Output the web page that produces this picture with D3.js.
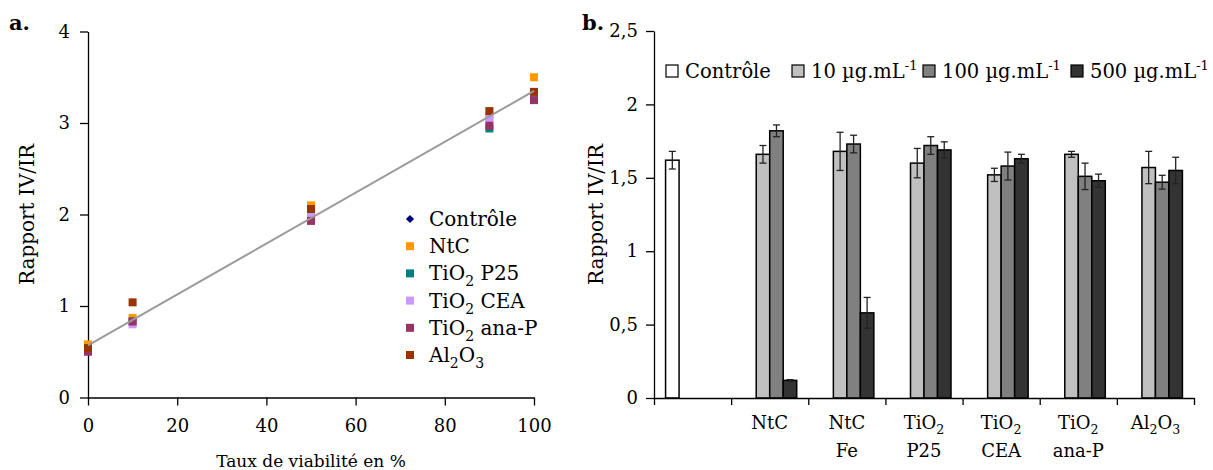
<!DOCTYPE html>
<html><head><meta charset="utf-8">
<script src="https://cdn.jsdelivr.net/npm/d3@7"></script>
<style>
html,body{margin:0;padding:0;background:#fff;}
svg text{font-family:"DejaVu Serif",serif;fill:#000;}
</style></head><body>
<svg id="c" width="1213" height="470"></svg>
<script>
// ---------- Panel a data ----------
const viability = [0, 10, 50, 90, 100];
const scatterSeries = ["Contrôle", "NtC", "TiO_{2} P25", "TiO_{2} CEA", "TiO_{2} ana-P", "Al_{2}O_{3}"];
const ctrlPts  = [0.55, 0.84, 1.97, 3.02, 3.30];
const ntcPts   = [0.58, 0.87, 2.10, 3.08, 3.50];
const p25Pts   = [0.52, 0.83, 1.95, 2.94, 3.27];
const ceaPts   = [0.52, 0.80, 1.99, 3.05, 3.30];
const anaPts   = [0.50, 0.83, 1.93, 2.97, 3.25];
const al2o3Pts = [0.54, 1.04, 2.06, 3.13, 3.34];
const trendX = [0, 100];
const trendY = [0.57, 3.35];
const xTicksA = [0, 20, 40, 60, 80, 100];
const yTicksA = [0, 1, 2, 3, 4];

// ---------- Panel b data ----------
const categories = ["Contrôle", "NtC", "NtC Fe", "TiO2 P25", "TiO2 CEA", "TiO2 ana-P", "Al2O3"];
const catLabels = [[], ["NtC"], ["NtC", "Fe"], ["TiO_{2}", "P25"], ["TiO_{2}", "CEA"], ["TiO_{2}", "ana-P"], ["Al_{2}O_{3}"]];
const barSeries = ["Contrôle", "10 µg.mL^{-1}", "100 µg.mL^{-1}", "500 µg.mL^{-1}"];
const ctrlVals = [1.62, null, null, null, null, null, null];
const ctrlErr  = [0.06, null, null, null, null, null, null];
const v10   = [null, 1.66, 1.68, 1.60, 1.52, 1.66, 1.57];
const e10   = [null, 0.06, 0.13, 0.10, 0.045, 0.02, 0.11];
const v100  = [null, 1.82, 1.73, 1.72, 1.58, 1.51, 1.47];
const e100  = [null, 0.04, 0.06, 0.06, 0.095, 0.09, 0.047];
const v500  = [null, 0.12, 0.58, 1.69, 1.63, 1.48, 1.55];
const e500  = [null, 0.005, 0.105, 0.055, 0.03, 0.045, 0.09];
const yTicksB = [0, 0.5, 1, 1.5, 2, 2.5];

const svg = d3.select("#c");
const FS = 18;

function rich(sel, str, fs) {
  const parts = str.split(/(_\{[^}]*\}|\^\{[^}]*\})/).filter(s => s.length);
  let shift = 0;
  parts.forEach(p => {
    const t = sel.append("tspan");
    let target = 0, txt = p, size = fs;
    if (p.startsWith("_{")) { target = fs * 0.3; txt = p.slice(2, -1); size = fs * 0.7; }
    else if (p.startsWith("^{")) { target = -fs * 0.42; txt = p.slice(2, -1); size = fs * 0.66; }
    t.attr("dy", target - shift).attr("font-size", size).text(txt);
    shift = target;
  });
}

function fmtComma(d) { return String(d).replace(".", ","); }

// ================= Panel a =================
const xA = d3.scaleLinear().domain([0, 100]).range([88, 534]);
const yA = d3.scaleLinear().domain([0, 4]).range([397.5, 31.5]);
const gA = svg.append("g");

const axA_y = gA.append("g").attr("transform", `translate(${xA(0)},0)`)
  .call(d3.axisLeft(yA).tickValues(yTicksA).tickFormat(d3.format("d")).tickSize(8).tickSizeOuter(0).tickPadding(10));
const axA_x = gA.append("g").attr("transform", `translate(0,${yA(0)})`)
  .call(d3.axisBottom(xA).tickValues(xTicksA).tickFormat(d3.format("d")).tickSize(8).tickSizeOuter(0).tickPadding(14));
[axA_y, axA_x].forEach(a => {
  a.selectAll("path,line").attr("stroke", "#000").attr("stroke-width", 1.3);
  a.selectAll("text").attr("font-size", FS).attr("font-family", "DejaVu Serif").attr("fill", "#000");
});

const colors = ["#000080", "#FF9900", "#008080", "#CC99FF", "#993366", "#993300"];
const ptSets = [ctrlPts, ntcPts, p25Pts, ceaPts, anaPts, al2o3Pts];
const diamond = d3.symbol().type(d3.symbolSquare).size(34);
ptSets.forEach((vals, si) => {
  const pts = vals.map((v, i) => ({ x: viability[i], y: v }));
  if (si === 0) {
    gA.append("g").selectAll("path").data(pts).join("path")
      .attr("d", diamond).attr("transform", d => `translate(${xA(d.x)},${yA(d.y)}) rotate(45)`)
      .attr("fill", colors[si]);
  } else {
    gA.append("g").selectAll("rect").data(pts).join("rect")
      .attr("x", d => xA(d.x) - 4).attr("y", d => yA(d.y) - 4)
      .attr("width", 8).attr("height", 8).attr("fill", colors[si]);
  }
});
gA.append("path")
  .datum(trendX.map((x, i) => [x, trendY[i]]))
  .attr("d", d3.line().x(d => xA(d[0])).y(d => yA(d[1])))
  .attr("stroke", "#9a9a9a").attr("stroke-width", 2).attr("fill", "none");

// legend a
const LFS = 20;
const legA = gA.append("g");
scatterSeries.forEach((name, i) => {
  const cy = 219 + i * 27.2;
  if (i === 0) {
    legA.append("path").attr("d", diamond).attr("transform", `translate(410,${cy}) rotate(45)`).attr("fill", colors[i]);
  } else {
    legA.append("rect").attr("x", 406).attr("y", cy - 4).attr("width", 8).attr("height", 8).attr("fill", colors[i]);
  }
  const t = legA.append("text").attr("x", 429).attr("y", cy + 7).attr("font-size", LFS);
  rich(t, name, LFS);
});

// axis titles a
gA.append("text").attr("transform", `translate(34,${(yA(0) + yA(4)) / 2}) rotate(-90)`)
  .attr("text-anchor", "middle").attr("font-size", 20).text("Rapport IV/IR");
gA.append("text").attr("x", (xA(0) + xA(100)) / 2).attr("y", 467)
  .attr("text-anchor", "middle").attr("font-size", 17).text("Taux de viabilité en %");
gA.append("text").attr("x", 9).attr("y", 30).attr("font-size", 21).attr("font-weight", "bold").text("a.");

// ================= Panel b =================
const yB = d3.scaleLinear().domain([0, 2.5]).range([398, 31]);
const xB = d3.scaleBand().domain(categories).range([654, 1194]).paddingInner(0.3).paddingOuter(0.15);
const x1 = d3.scaleBand().domain(barSeries).range([0, xB.bandwidth()]);
const xBound = d3.scaleLinear().domain([0, categories.length]).range([654, 1194]);
const gB = svg.append("g");

const barFill = ["#ffffff", "#c0c0c0", "#808080", "#333333"];
const valSets = [ctrlVals, v10, v100, v500];
const errSets = [ctrlErr, e10, e100, e500];

valSets.forEach((vals, si) => {
  const data = categories.map((c, i) => ({ c, v: vals[i], e: errSets[si][i] })).filter(d => d.v != null);
  const g = gB.append("g");
  g.selectAll("rect").data(data).join("rect")
    .attr("x", d => xB(d.c) + x1(barSeries[si]))
    .attr("y", d => yB(d.v))
    .attr("width", x1.bandwidth())
    .attr("height", d => yB(0) - yB(d.v))
    .attr("fill", barFill[si]).attr("stroke", "#000").attr("stroke-width", 1.5);
});
valSets.forEach((vals, si) => {
  const data = categories.map((c, i) => ({ c, v: vals[i], e: errSets[si][i] })).filter(d => d.v != null);
  const g = gB.append("g").attr("stroke", "#222").attr("stroke-width", 1.3);
  data.forEach(d => {
    const cx = xB(d.c) + x1(barSeries[si]) + x1.bandwidth() / 2;
    g.append("line").attr("x1", cx).attr("x2", cx).attr("y1", yB(d.v + d.e)).attr("y2", yB(d.v - d.e));
    g.append("line").attr("x1", cx - 3.5).attr("x2", cx + 3.5).attr("y1", yB(d.v + d.e)).attr("y2", yB(d.v + d.e));
    g.append("line").attr("x1", cx - 3.5).attr("x2", cx + 3.5).attr("y1", yB(d.v - d.e)).attr("y2", yB(d.v - d.e));
  });
});

const axB_y = gB.append("g").attr("transform", "translate(654,0)")
  .call(d3.axisLeft(yB).tickValues(yTicksB).tickFormat(fmtComma).tickSize(8).tickSizeOuter(0).tickPadding(8));
const axB_x = gB.append("g").attr("transform", `translate(0,${yB(0)})`)
  .call(d3.axisBottom(xBound).tickValues(d3.range(categories.length + 1)).tickFormat("").tickSize(7).tickSizeOuter(0));
[axB_y, axB_x].forEach(a => {
  a.selectAll("path,line").attr("stroke", "#000").attr("stroke-width", 1.3);
  a.selectAll("text").attr("font-size", FS).attr("font-family", "DejaVu Serif").attr("fill", "#000");
});

// category labels
catLabels.forEach((lines, i) => {
  const cx = xB(categories[i]) + xB.bandwidth() / 2;
  lines.forEach((ln, j) => {
    const t = gB.append("text").attr("x", cx).attr("y", 429 + j * 28).attr("text-anchor", "middle").attr("font-size", FS);
    rich(t, ln, FS);
  });
});

// legend b
const BFS = 19.5;
const legX = [666, 792, 923, 1071];
barSeries.forEach((name, i) => {
  gB.append("rect").attr("x", legX[i]).attr("y", 65).attr("width", 12).attr("height", 12)
    .attr("fill", barFill[i]).attr("stroke", "#000").attr("stroke-width", 1.2);
  const t = gB.append("text").attr("x", legX[i] + 19).attr("y", 78).attr("font-size", BFS);
  rich(t, name, BFS);
});

gB.append("text").attr("transform", `translate(603,${(yB(0) + yB(2.5)) / 2}) rotate(-90)`)
  .attr("text-anchor", "middle").attr("font-size", 20).text("Rapport IV/IR");
gB.append("text").attr("x", 582).attr("y", 30).attr("font-size", 21).attr("font-weight", "bold").text("b.");
</script>
</body></html>
